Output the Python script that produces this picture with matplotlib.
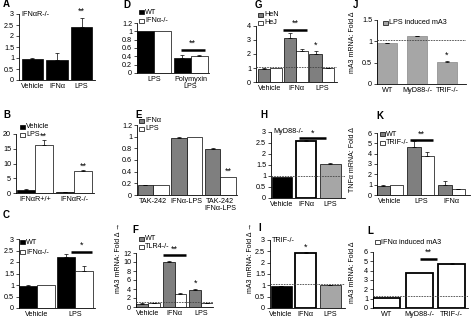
import matplotlib.pyplot as plt
from matplotlib.patches import Rectangle
import numpy as np

plt.rcParams['font.family'] = ['Liberation Sans', 'DejaVu Sans']
plt.rcParams['font.size'] = 5.2

# values per panel
a_labels = ['Vehicle', 'IFNα', 'LPS']
a_vals = [0.97, 0.92, 2.42]
a_err = [0.03, 0.30, 0.40]

b_groups = ['IFNαR+/+', 'IFNαR-/-']
b_vehicle = [1.0, 0.3]
b_vehicle_err = [0.2, 0.05]
b_lps = [16.2, 7.3]
b_lps_err = [1.7, 0.4]

c_groups = ['Vehicle', 'LPS']
c_wt = [0.95, 2.2]
c_wt_err = [0.03, 0.15]
c_ko = [1.0, 1.62]
c_ko_err = [0.0, 0.2]

d_groups = ['LPS', 'Polymyxin\nLPS']
d_wt = [1.0, 0.37]
d_wt_err = [0.0, 0.05]
d_ko = [1.0, 0.41]
d_ko_err = [0.0, 0.03]

e_groups = ['TAK-242', 'IFNα-LPS', 'TAK-242\nIFNα-LPS']
e_ifn = [0.17, 0.98, 0.79]
e_ifn_err = [0.01, 0.01, 0.01]
e_lps = [0.17, 0.99, 0.31]
e_lps_err = [0.0, 0.0, 0.0]

f_groups = ['Vehicle', 'IFNα', 'LPS']
f_wt = [0.7, 10.1, 3.8]
f_wt_err = [0.1, 0.2, 0.25]
f_ko = [0.9, 3.0, 0.9]
f_ko_err = [0.05, 0.1, 0.05]

g_groups = ['Vehicle', 'IFNα', 'LPS']
g_hen = [0.93, 3.15, 2.0]
g_hen_err = [0.1, 0.35, 0.2]
g_hej = [1.0, 2.2, 0.98]
g_hej_err = [0.0, 0.15, 0.03]

h_labels = ['Vehicle', 'IFNα', 'LPS']
h_vals = [0.97, 2.58, 1.55]
h_err = [0.0, 0.05, 0.03]

i_labels = ['Vehicle', 'IFNα', 'LPS']
i_vals = [0.97, 2.42, 1.0]
i_err = [0.02, 0.05, 0.03]

j_labels = ['WT', 'MyD88-/-', 'TRIF-/-']
j_vals = [0.96, 1.12, 0.51]
j_err = [0.01, 0.01, 0.02]

k_groups = ['Vehicle', 'LPS', 'IFNα']
k_wt = [0.9, 4.6, 1.0]
k_wt_err = [0.1, 0.6, 0.4]
k_ko = [1.0, 3.8, 0.55]
k_ko_err = [0.0, 0.35, 0.05]

l_labels = ['WT', 'MyD88-/-', 'TRIF-/-']
l_vals = [1.05, 3.7, 4.7]
l_err = [0.0, 0.0, 0.1]

W, H = 474, 323
fig = plt.figure(figsize=(W / 100, H / 100), dpi=100)

GRAY = '#7f7f7f'
LIGHT = '#a6a6a6'
YLABEL = 'mA3 mRNA: Fold Δ →'
FS = 5.2


def add_ax(x0, x1, y0, yt, ymax, ticks, xlim):
    # axes placed by pixel box: left, right, baseline row, row of the top tick
    ax = fig.add_axes([x0 / W, 1 - y0 / H, (x1 - x0) / W, (y0 - yt) / H])
    ax.set_xlim(*xlim)
    ax.set_ylim(0, ymax)
    ax.set_yticks(ticks)
    ax.set_yticklabels(['%g' % t for t in ticks])
    for s in ['top', 'right']:
        ax.spines[s].set_visible(False)
    for s in ['left', 'bottom']:
        ax.spines[s].set_linewidth(0.6)
    ax.tick_params(axis='y', length=2, width=0.5, labelsize=FS, pad=1.5)
    ax.tick_params(axis='x', length=0, labelsize=FS, pad=2)
    ax.patch.set_alpha(0)
    return ax


def bars(ax, x, vals, err, fc, width, ec='black', lw=0.5):
    x = np.asarray(x, dtype=float)
    ax.bar(x, vals, width, color=fc, edgecolor=ec, linewidth=lw, zorder=2)
    err = np.asarray(err)
    keep = err > 0
    if keep.any():
        ax.errorbar(x[keep], np.asarray(vals)[keep],
                    yerr=[np.zeros(keep.sum()), err[keep]], fmt='none',
                    ecolor='black', elinewidth=0.5, capsize=1.2,
                    capthick=0.5, zorder=3)


def sig(ax, x1, x2, y, stars, ys):
    if x1 is not None:
        ax.plot([x1, x2], [y, y], color='black', lw=1.8, clip_on=False,
                solid_capstyle='butt', zorder=4)
        xs = (x1 + x2) / 2
    else:
        xs = x2
    ax.text(xs, ys, stars, ha='center', va='bottom', fontsize=6.5,
            clip_on=False)


def key(x, y, fc, label):
    fig.patches.append(Rectangle((x / W, 1 - (y + 2.2) / H), 4.5 / W, 4.5 / H,
                                 transform=fig.transFigure, facecolor=fc,
                                 edgecolor='black', lw=0.5))
    fig.text((x + 6) / W, 1 - y / H, label, va='center', ha='left',
             fontsize=FS)


def panel(x, y, s):
    fig.text(x / W, 1 - y / H, s, fontweight='bold', fontsize=7,
             va='center', ha='left')


def dashed(ax, y):
    ax.axhline(y, color='#444444', lw=0.6, ls=(0, (2, 1.2)), zorder=5)


def ylab(x, y, s):
    fig.text(x / W, 1 - y / H, s, rotation=90, ha='center', va='center',
             fontsize=5)


# A
ax = add_ax(19, 95, 80, 14, 3, [0, 0.5, 1, 1.5, 2, 2.5, 3], (-0.55, 2.55))
bars(ax, range(3), a_vals, a_err, 'black', 0.86)
ax.set_xticks(range(3))
ax.set_xticklabels(a_labels)
ax.text(0.03, 1.0, 'IFNαR-/-', transform=ax.transAxes, va='center')
sig(ax, None, 2, 0, '**', 2.9)
panel(3, 4, 'A')

# B
ax = add_ax(16, 94, 193, 134, 20, [0, 5, 10, 15, 20], (-0.475, 1.5))
xb = np.arange(2)
bars(ax, xb - 0.225, b_vehicle, b_vehicle_err, 'black', 0.45)
bars(ax, xb + 0.225, b_lps, b_lps_err, 'white', 0.45)
ax.set_xticks(xb)
ax.set_xticklabels(b_groups)
sig(ax, None, 0.225, 0, '**', 17.6)
sig(ax, None, 1.225, 0, '**', 7.6)
key(20, 127, 'black', 'Vehicle')
key(20, 135, 'white', 'LPS')
panel(3, 115, 'B')

# C
ax = add_ax(19, 95, 308, 239, 3, [0, 0.5, 1, 1.5, 2, 2.5, 3], (-0.47, 1.53))
xc = np.arange(2)
bars(ax, xc - 0.235, c_wt, c_wt_err, 'black', 0.47)
bars(ax, xc + 0.235, c_ko, c_ko_err, 'white', 0.47)
ax.set_xticks(xc)
ax.set_xticklabels(c_groups)
sig(ax, 0.89, 1.45, 2.45, '*', 2.55)
key(20, 242, 'black', 'WT')
key(20, 252, 'white', 'IFNα-/-')
panel(3, 215, 'C')

# D
ax = add_ax(137, 209, 73, 23, 1.2, [0, 0.2, 0.4, 0.6, 0.8, 1, 1.2],
            (-0.46, 1.5))
xd = np.arange(2)
bars(ax, xd - 0.23, d_wt, d_wt_err, 'black', 0.46)
bars(ax, xd + 0.23, d_ko, d_ko_err, 'white', 0.46)
ax.set_xticks(xd)
ax.set_xticklabels(d_groups, linespacing=1.1)
sig(ax, 0.73, 1.38, 0.56, '**', 0.6)
key(139, 12, 'black', 'WT')
key(139, 21, 'white', 'IFNα-/-')
panel(123, 5, 'D')

# E
ax = add_ax(137, 237, 195, 125, 1.2, [0, 0.2, 0.4, 0.6, 0.8, 1, 1.2],
            (-0.48, 2.5))
xe = np.arange(3)
bars(ax, xe - 0.23, e_ifn, e_ifn_err, GRAY, 0.46)
bars(ax, xe + 0.23, e_lps, e_lps_err, 'white', 0.46)
ax.set_xticks(xe)
ax.set_xticklabels(e_groups, linespacing=1.1)
sig(ax, None, 2.23, 0, '**', 0.33)
key(139, 121, GRAY, 'IFNα')
key(139, 129, 'white', 'LPS')
panel(135, 115, 'E')

# F
ax = add_ax(136, 213, 307, 253, 12, [0, 2, 4, 6, 8, 10, 12], (-0.44, 2.44))
xf = np.arange(3)
bars(ax, xf - 0.22, f_wt, f_wt_err, GRAY, 0.44)
bars(ax, xf + 0.22, f_ko, f_ko_err, 'white', 0.44)
ax.set_xticks(xf)
ax.set_xticklabels(f_groups)
dashed(ax, 1.2)
sig(ax, 0.56, 1.44, 11.6, '**', 11.9)
sig(ax, None, 1.78, 0, '*', 4.2)
key(139, 239, GRAY, 'WT')
key(139, 247, 'white', 'TLR4-/-')
ylab(119, 258, YLABEL)
panel(132, 230, 'F')

# G
ax = add_ax(256, 337, 82, 26, 4, [0, 1, 2, 3, 4], (-0.54, 2.58))
xg = np.arange(3)
bars(ax, xg - 0.24, g_hen, g_hen_err, GRAY, 0.48)
bars(ax, xg + 0.24, g_hej, g_hej_err, 'white', 0.48)
ax.set_xticks(xg)
ax.set_xticklabels(g_groups)
dashed(ax, 1.05)
sig(ax, 0.5, 1.42, 3.75, '**', 3.85)
sig(ax, None, 1.76, 0, '*', 2.3)
key(258, 15, GRAY, 'HeN')
key(258, 23, 'white', 'HeJ')
panel(255, 5, 'G')

# H
ax = add_ax(271, 345, 198, 132, 3, [0, 0.5, 1, 1.5, 2, 2.5, 3], (-0.45, 2.6))
bars(ax, [0], h_vals[:1], h_err[:1], 'black', 0.85)
bars(ax, [1], h_vals[1:2], h_err[1:2], 'white', 0.85, lw=1.3)
bars(ax, [2], h_vals[2:], h_err[2:], LIGHT, 0.85)
ax.set_xticks(range(3))
ax.set_xticklabels(h_labels)
dashed(ax, 1.0)
sig(ax, 0.7, 1.8, 2.72, '*', 2.76)
ax.text(0.03, 1.0, 'MyD88-/-', transform=ax.transAxes, va='center')
panel(260, 115, 'H')

# I
ax = add_ax(270, 345, 308, 240, 3, [0, 0.5, 1, 1.5, 2, 2.5, 3], (-0.45, 2.6))
bars(ax, [0], i_vals[:1], i_err[:1], 'black', 0.85)
bars(ax, [1], i_vals[1:2], i_err[1:2], 'white', 0.85, lw=1.3)
bars(ax, [2], i_vals[2:], i_err[2:], LIGHT, 0.85)
ax.set_xticks(range(3))
ax.set_xticklabels(i_labels)
dashed(ax, 1.05)
sig(ax, None, 1, 0, '*', 2.5)
ax.text(0.03, 1.0, 'TRIF-/-', transform=ax.transAxes, va='center')
ylab(250, 258, YLABEL)
panel(258, 228, 'I')

# J
ax = add_ax(377, 466, 84, 20, 1.5, [0, 0.5, 1, 1.5], (-0.35, 2.64))
bars(ax, range(3), j_vals, j_err, LIGHT, 0.67, ec='#888888')
ax.set_xticks(range(3))
ax.set_xticklabels(j_labels)
dashed(ax, 1.02)
sig(ax, None, 2, 0, '*', 0.57)
key(383, 23, LIGHT, 'LPS induced mA3')
ylab(352, 42, 'mA3 mRNA: Fold Δ')
panel(353, 5, 'J')

# K
ax = add_ax(377, 470, 195, 133, 6, [0, 1, 2, 3, 4, 5, 6], (-0.42, 2.6))
xk = np.arange(3)
bars(ax, xk - 0.215, k_wt, k_wt_err, GRAY, 0.43)
bars(ax, xk + 0.215, k_ko, k_ko_err, 'white', 0.43)
ax.set_xticks(xk)
ax.set_xticklabels(k_groups)
sig(ax, 0.65, 1.4, 5.3, '**', 5.45)
key(380, 134, GRAY, 'WT')
key(380, 143, 'white', 'TRIF-/-')
ylab(352, 160, 'TNFα mRNA: Fold Δ')
panel(376, 116, 'K')

# L
ax = add_ax(373, 468, 308, 252, 6, [0, 1, 2, 3, 4, 5, 6], (-0.42, 2.5))
bars(ax, range(3), l_vals, l_err, 'white', 0.83, lw=1.3)
ax.set_xticks(range(3))
ax.set_xticklabels(l_labels)
dashed(ax, 1.25)
sig(ax, 1.03, 1.55, 5.3, '**', 5.45)
key(375, 242, 'white', 'IFNα induced mA3')
ylab(352, 272, 'mA3 mRNA: Fold Δ')
panel(367, 231, 'L')

fig.savefig('out.png', dpi=100)
